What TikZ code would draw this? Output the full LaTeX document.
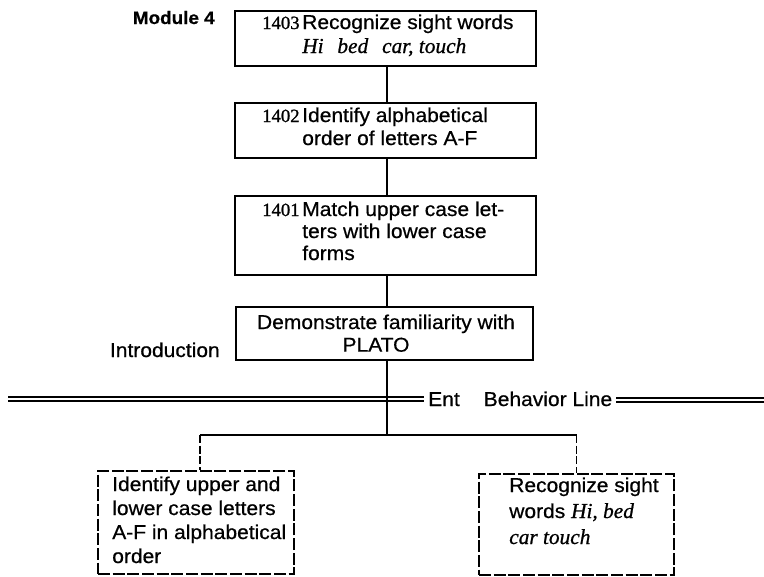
\documentclass[tikz,border=0pt]{standalone}
\usepackage{fontspec}
\setmainfont{Liberation Sans}[FakeStretch=1.05, FakeBold=0.6]
\newfontfamily\numfont{Liberation Serif}[FakeBold=1]
\newfontfamily\wordfont{Liberation Serif}[FakeBold=0.8]
\newlength\pxu
\setlength\pxu{0.75pt}

\tikzset{
  unitbox/.style={draw, line width=1pt, inner sep=0pt},
  laterbox/.style={unitbox, dash pattern=on 9pt off 2pt},
  link/.style={line width=1pt},
  laterlink/.style={link, dash pattern=on 6pt off 2pt},
  entryline/.style={double, double distance=2.2pt, line width=0.8pt},
  boxtext/.style={inner sep=0pt, anchor=base west},
  sidelabel/.style={inner sep=0pt, anchor=base east},
}
\newcommand\unitno[1]{\makebox[40\pxu][l]{\numfont\fontsize{14}{15}\selectfont #1}}
\newcommand\sight[1]{{\wordfont\itshape\fontsize{16}{18}\selectfont #1}}

\begin{document}
\begin{tikzpicture}[x=0.75pt, y=-0.75pt]
  \fill[white] (0,0) rectangle (764,576);
  \useasboundingbox (0,0) rectangle (764,576);

  % vertical spine of the module
  \coordinate (spine) at (387,0);

  % Module 4 units
  \node[unitbox, minimum width=301\pxu, minimum height=55\pxu] (m1403) at (385.5,38.5) {};
  \node[boxtext, font=\fontsize{15}{18}\selectfont] (t1403) at (262,29)
    {\begin{tabular}[t]{@{}l@{}l@{}}\unitno{1403} & Recognize sight words\\
      & \sight{Hi\hspace{0.4em} bed\hspace{0.4em} car, touch}\end{tabular}};

  \node[unitbox, minimum width=301\pxu, minimum height=55\pxu] (m1402) at (385.5,130.5) {};
  \node[boxtext, font=\fontsize{15}{17.25}\selectfont] (t1402) at (262,122)
    {\begin{tabular}[t]{@{}l@{}l@{}}\unitno{1402} & Identify alphabetical\\
      & order of letters A-F\end{tabular}};

  \node[unitbox, minimum width=301\pxu, minimum height=79\pxu] (m1401) at (385.5,235.5) {};
  \node[boxtext, font=\fontsize{15}{16.5}\selectfont] (t1401) at (262,216)
    {\begin{tabular}[t]{@{}l@{}l@{}}\unitno{1401} & Match upper case let-\\
      & ters with lower case\\ & forms\end{tabular}};

  % Introduction unit
  \node[unitbox, minimum width=297\pxu, minimum height=53\pxu] (demo) at (384.5,333.5) {};
  \node[inner sep=0pt, anchor=base, font=\fontsize{15}{17}\selectfont] (tdemo) at (386,329)
    {\begin{tabular}[t]{@{}c@{}}Demonstrate familiarity with\\ PLATO\hspace*{20\pxu}\end{tabular}};

  \node[sidelabel, font=\bfseries\fontsize{13.5}{16}\selectfont] (lmod) at (215,24) {Module 4};
  \node[sidelabel, font=\fontsize{15}{17}\selectfont] (lintro) at (220,357) {Introduction};

  % entry behavior line
  \coordinate (ebl) at (8,399);
  \coordinate (ebr) at (764,400);
  \node[inner ysep=0pt, inner xsep=3pt, anchor=base west, font=\fontsize{15}{18}\selectfont]
    (entry) at (424,406) {Ent\hspace{18pt}Behavior Line};
  \draw[entryline] (ebl) -- (ebl -| entry.west);
  \draw[entryline] (ebr -| entry.east) -- (ebr);

  % units below the entry behavior line
  \node[laterbox, minimum width=196\pxu, minimum height=103\pxu] (lowl) at (196,522.5) {};
  \node[boxtext, font=\fontsize{15}{18}\selectfont] (tlowl) at (112,491)
    {\begin{tabular}[t]{@{}l@{}}Identify upper and\\ lower case letters\\
      A-F in alphabetical\\ order\end{tabular}};

  \node[laterbox, minimum width=195\pxu, minimum height=101\pxu] (lowr) at (576.5,524.5) {};
  \node[boxtext, font=\fontsize{15}{19.5}\selectfont] (tlowr) at (509,492)
    {\begin{tabular}[t]{@{}l@{}}Recognize sight\\ words \sight{Hi, bed}\\
      \sight{car touch}\end{tabular}};

  % connectors
  \coordinate (fork) at (387,435);
  \draw[link] (m1403.south -| spine) -- (m1402.north -| spine);
  \draw[link] (m1402.south -| spine) -- (m1401.north -| spine);
  \draw[link] (m1401.south -| spine) -- (demo.north -| spine);
  \draw[link] (demo.south -| spine) -- (fork);
  \draw[link] ([xshift=3pt]lowl.north |- fork) -- (fork) -- (lowr.north |- fork);
  \draw[laterlink] ([xshift=3pt]lowl.north |- fork) -- ([xshift=3pt]lowl.north);
  \draw[laterlink] (lowr.north |- fork) -- (lowr.north);
\end{tikzpicture}
\end{document}
